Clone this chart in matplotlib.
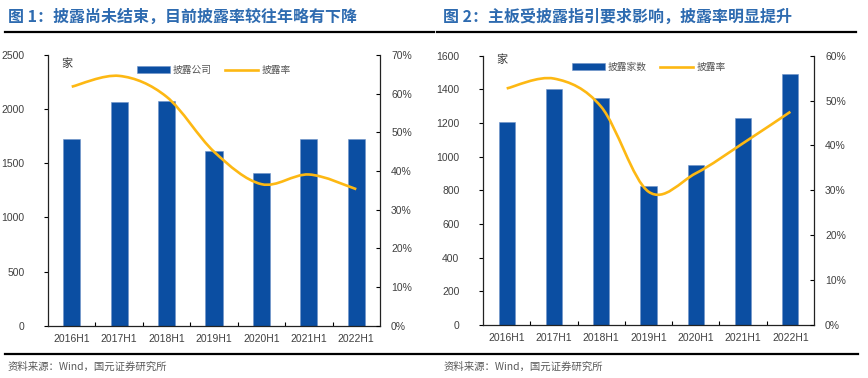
import numpy as np
import matplotlib
matplotlib.use("Agg")
import matplotlib.pyplot as plt
from matplotlib.path import Path
from matplotlib.patches import PathPatch, Patch
from matplotlib.lines import Line2D
from matplotlib.ticker import FuncFormatter, MultipleLocator

plt.rcParams['font.family'] = ['Liberation Sans', 'Noto Sans CJK SC', 'DejaVu Sans']

periods = ['2016H1', '2017H1', '2018H1', '2019H1', '2020H1', '2021H1', '2022H1']

# 图1: all companies
disclosed_all = [1720, 2063, 2072, 1613, 1410, 1720, 1720]
rate_all = [0.618, 0.646, 0.592, 0.450, 0.366, 0.391, 0.353]

# 图2: main board
disclosed_main = [1204, 1400, 1347, 828, 949, 1230, 1493]
rate_main = [0.527, 0.549, 0.486, 0.297, 0.338, 0.405, 0.475]

BAR = '#0B4EA2'
LINE = '#FDB813'
TXT = '#404040'
TITLE = '#2E6BB0'
CJK = ['Noto Sans CJK SC', 'DejaVu Sans']


def smooth_path(xs, ys):
    # bezier segments like an office "smoothed line"
    pts = np.column_stack([xs, ys]).astype(float)
    n = len(pts)
    verts = [pts[0]]
    codes = [Path.MOVETO]
    for i in range(n - 1):
        p0 = pts[i - 1] if i > 0 else pts[i]
        p1 = pts[i]
        p2 = pts[i + 1]
        p3 = pts[i + 2] if i + 2 < n else pts[i + 1]
        c1 = p1 + (p2 - p0) / 6.0
        c2 = p2 - (p3 - p1) / 6.0
        verts += [c1, c2, p2]
        codes += [Path.CURVE4] * 3
    return Path(verts, codes)


def draw_panel(rect, counts, rates, ymax, ystep, rmax, width, bar_label, leg_anchor, unit_xy):
    ax = fig.add_axes(rect)
    x = np.arange(len(periods))
    ax.bar(x, counts, width=width, color=BAR, edgecolor='#6F93C8', linewidth=0.4, zorder=2)
    ax.set_xlim(-0.5, len(periods) - 0.5)
    ax.set_ylim(0, ymax)
    ax.yaxis.set_major_locator(MultipleLocator(ystep))
    ax.set_xticks(x)
    ax.set_xticklabels(periods)
    ax.set_xticks(np.arange(0.5, len(periods) - 1, 1), minor=True)
    ax.tick_params(axis='x', which='major', length=0, pad=6, labelsize=7.5, labelcolor=TXT)
    ax.tick_params(axis='x', which='minor', direction='in', length=3, width=0.8)
    ax.tick_params(axis='y', direction='out', length=3, width=0.8, labelsize=7.5,
                   labelcolor=TXT, pad=14)
    for s in ['left', 'bottom']:
        ax.spines[s].set_linewidth(0.9)
        ax.spines[s].set_color('#222222')
    ax.spines['top'].set_visible(False)
    ax.spines['right'].set_visible(False)

    ax2 = ax.twinx()
    ax2.set_ylim(0, rmax)
    ax2.yaxis.set_major_locator(MultipleLocator(0.1))
    ax2.yaxis.set_major_formatter(FuncFormatter(lambda v, p: f'{v * 100:.0f}%'))
    ax2.tick_params(axis='y', direction='in', length=3, width=0.8, labelsize=7.5,
                    labelcolor=TXT, pad=8)
    ax2.spines['right'].set_linewidth(0.9)
    ax2.spines['right'].set_color('#222222')
    for s in ['top', 'left', 'bottom']:
        ax2.spines[s].set_visible(False)
    ax2.add_patch(PathPatch(smooth_path(x, rates), facecolor='none', edgecolor=LINE,
                            linewidth=1.9, capstyle='butt', zorder=3))

    handles = [Patch(facecolor=BAR, edgecolor='#6F93C8', linewidth=0.4),
               Line2D([], [], color=LINE, linewidth=1.9)]
    fig.legend(handles, [bar_label, '披露率'], loc='center left',
               bbox_to_anchor=leg_anchor, ncol=2, frameon=False,
               prop={'family': CJK, 'size': 7}, labelcolor='#555555',
               handlelength=3.4, handleheight=0.75, handletextpad=0.3, columnspacing=1.4)
    fig.text(unit_xy[0], unit_xy[1], '家', fontsize=8, family=CJK, color='#333333',
             ha='center', va='center')
    return ax


fig = plt.figure(figsize=(8.68, 3.78), dpi=100)

draw_panel([0.0553, 0.1384, 0.3825, 0.7161], disclosed_all, rate_all, 2500, 500, 0.7,
           0.36, '披露公司', (128 / 868, 1 - 70 / 378), (67 / 868, 1 - 64 / 378))
draw_panel([0.5565, 0.1402, 0.3813, 0.7125], disclosed_main, rate_main, 1600, 200, 0.6,
           0.34, '披露家数', (563 / 868, 1 - 67 / 378), (502 / 868, 1 - 60 / 378))

# titles, rules and source notes
fig.text(8 / 868, 1 - 17 / 378, '图 1：披露尚未结束，目前披露率较往年略有下降', fontsize=11.5,
         fontweight='bold', color=TITLE, family=CJK, va='center')
fig.text(443 / 868, 1 - 17 / 378, '图 2：主板受披露指引要求影响，披露率明显提升', fontsize=11.5,
         fontweight='bold', color=TITLE, family=CJK, va='center')
fig.add_artist(Line2D([5 / 868, 434 / 868], [1 - 32 / 378] * 2, color='black', linewidth=1.6))
fig.add_artist(Line2D([437 / 868, 856 / 868], [1 - 32 / 378] * 2, color='black', linewidth=1.6))
fig.add_artist(Line2D([5 / 868, 858 / 868], [1 - 354 / 378] * 2, color='black', linewidth=1.6))
fig.text(8 / 868, 1 - 367 / 378, '资料来源：Wind，国元证券研究所', fontsize=7.5, color='#595959',
         family=CJK, va='center')
fig.text(444 / 868, 1 - 367 / 378, '资料来源：Wind，国元证券研究所', fontsize=7.5, color='#595959',
         family=CJK, va='center')

fig.savefig('out.png', dpi=100)
